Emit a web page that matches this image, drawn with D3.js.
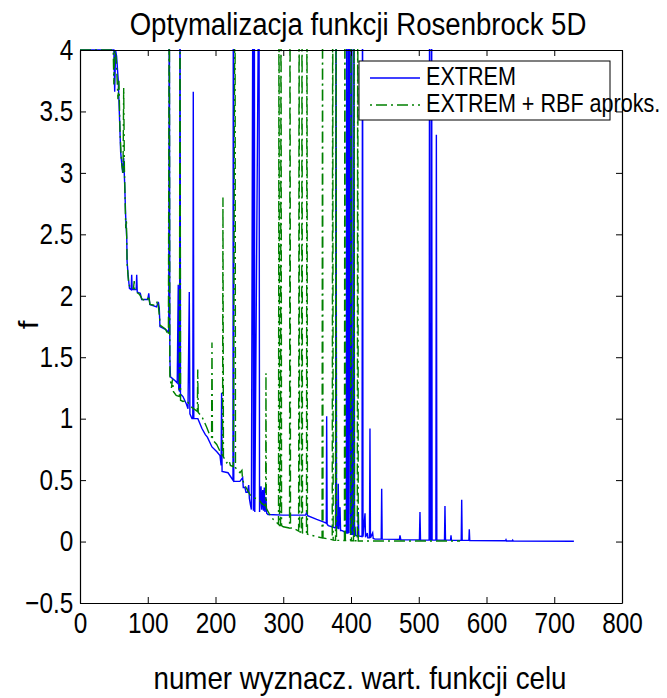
<!DOCTYPE html>
<html>
<head>
<meta charset="utf-8">
<script src="https://cdn.jsdelivr.net/npm/d3@7/dist/d3.min.js"></script>
<style>
body { margin: 0; background: #fff; }
text { font-family: "Liberation Sans", Arial, sans-serif; fill: #000; }
</style>
</head>
<body>
<div id="chart"></div>
<script>
var xTicks = [0, 100, 200, 300, 400, 500, 600, 700, 800];
var yTicks = [-0.5, 0, 0.5, 1, 1.5, 2, 2.5, 3, 3.5, 4];
var yTickLabels = ["\u22120.5", "0", "0.5", "1", "1.5", "2", "2.5", "3", "3.5", "4"];

// EXTREM  (index, f) - spikes above 4 are clipped by the axes
var extremPts = [
  [0,4],[50,4],[51.2,3.66],[52.5,4],[54,3.95],[56.5,3.75],[58,3.5],[60,3.17],[62,3.05],[63,3.0],
  [64.5,3.12],[66,2.9],[67.5,2.63],[69,2.47],[69.5,2.28],[71,2.17],[73,2.06],[75.5,2.05],[76.3,2.17],
  [77,2.05],[83,2.05],[83.7,2.17],[84.5,2.03],[89,2.02],[91,1.97],[100,1.97],[101.5,2.02],[103,1.93],
  [113,1.91],[115.6,1.95],[117,1.9],[118,1.75],[128,1.72],[131,1.70],[131.8,5],[132.6,1.5],[133.5,1.34],
  [140,1.31],[143.5,1.29],[145,2.09],[145.8,1.24],[147,1.22],[147.6,5],[148.3,1.2],[152,1.18],[157,1.12],
  [159.4,1.08],[161.3,2.03],[162.2,1.04],[165.3,1.0],[166.5,1.0],[167.2,3.66],[168,1.0],[174,1.0],
  [180,0.92],[185,0.87],[188,0.85],[194.8,0.77],[202,0.73],[206.6,0.70],[208.3,0.62],[209,1.21],
  [209.7,0.57],[218.5,0.56],[225.8,0.5],[226.3,5],[227,0.49],[236,0.49],[240.1,0.52],[241,0.44],
  [243.5,0.44],[245,0.40],[247,0.40],[249,0.46],[250,0.35],[251.5,0.30],[253,0.26],[255.3,5],[256,0.25],
  [257.3,5],[258,0.24],[264.2,5],[265,0.24],[267.2,0.45],[268.3,0.26],[269.7,0.42],[270.8,0.25],
  [272,0.44],[273,0.24],[274.5,0.36],[275.5,0.23],[277.5,0.22],[300,0.215],[333,0.215],[334.6,0.24],
  [336,0.21],[349.4,0.18],[359.1,0.16],[363.5,0.15],[364.1,1.02],[364.8,0.14],[366.5,0.13],[377.3,0.11],
  [377.9,5],[378.6,0.11],[380.5,0.11],[381.2,0.47],[382,0.10],[383.8,0.28],[384.6,0.09],[386.3,0.09],
  [393.1,0.07],[393.7,5],[394.5,0.07],[395.5,0.07],[396.2,5],[397,0.07],[398.5,5],[399.5,0.06],
  [400.5,0.06],[401.2,5],[402,0.06],[403.8,0.055],[404.4,5],[405.2,0.05],[406,0.12],[406.8,0.05],
  [410.2,0.045],[410.8,0.24],[411.5,0.045],[416.3,0.04],[417,5],[417.7,0.04],[420.7,0.23],[421.4,0.035],
  [424,0.07],[424.8,0.03],[427.3,0.03],[428,0.92],[428.7,0.03],[432,0.07],[432.8,0.025],[435.4,0.02],
  [444.6,0.02],[445.3,0.43],[446,0.02],[471.5,0.018],[472.3,0.05],[473.5,0.015],[501,0.014],[501.8,0.24],
  [502.6,0.013],[515.3,0.012],[516,5],[516.7,0.012],[518.3,0.012],[519,5],[519.7,0.012],[525.3,0.012],
  [526,3.31],[526.7,0.012],[538,0.012],[538.7,0.29],[539.5,0.012],[547,0.012],[547.6,0.05],[548.3,0.01],
  [562.7,0.01],[563.4,0.34],[564.1,0.01],[574,0.01],[574.6,0.10],[575.3,0.008],[628,0.006],[628.8,0.015],
  [629.6,0.005],[638,0.005],[638.7,0.012],[639.5,0.004],[729,0.003]
];

// EXTREM + RBF aproks.
var rbfPts = [
  [0,4],[49,4],[50,3.72],[51,4],[53.5,3.93],[56,3.6],[57.5,3.75],[59,3.35],[61,3.1],[63.5,3.0],
  [64.5,3.69],[65.5,3.05],[66.5,2.8],[67.5,2.55],[68.5,2.62],[69.5,2.27],[71.5,2.12],[74,2.06],[79,2.06],
  [80,2.12],[81,2.04],[88,2.01],[92,1.97],[99,1.96],[101,2.0],[103.5,1.93],[112,1.92],[114.5,1.96],
  [116,1.9],[118.5,1.76],[126,1.73],[130.5,1.68],[131.8,5],[132.6,1.35],[135,1.25],[136.5,1.32],
  [138,1.22],[142,1.19],[146.8,1.18],[147.6,5],[148.4,1.15],[152,1.14],[157.5,1.15],[163,1.1],[168,1.08],
  [173.2,1.06],[173.8,1.4],[174.5,1.05],[179.6,1.02],[183,0.98],[187,0.93],[192,0.86],[194.2,0.85],
  [194.8,1.62],[195.5,0.83],[201.8,0.79],[207,0.73],[210.4,0.70],[211,2.8],[211.7,0.69],[216.5,0.64],
  [220,0.66],[222,0.62],[226.3,0.61],[228.8,5],[229.5,0.6],[236.2,0.56],[239,0.58],[240,0.50],
  [244,0.45],[251,0.38],[255,0.36],[260,0.35],[265.7,0.33],[268,0.31],[274,0.29],[274.5,1.37],
  [275,0.27],[279,0.23],[285.3,0.18],[293,0.14],[293.7,5],[294.5,0.13],[296,0.13],[296.7,5],[297.5,0.13],
  [300,0.12],[309.3,0.11],[310,5],[310.7,0.11],[314.8,0.11],[322.7,0.085],[323.4,5],[324.1,0.08],
  [327,0.075],[327.7,5],[328.4,0.07],[334.3,0.065],[335,5],[335.7,0.06],[349.4,0.04],[357.3,0.03],
  [358,5],[358.7,0.03],[372.3,0.015],[373,5],[373.7,0.012],[377.2,0.01],[377.9,5],[378.6,0.01],
  [390.3,0.008],[391,5],[391.7,0.008],[399.3,0.007],[400,5],[400.7,0.007],[403.7,0.006],[404.4,5],
  [405.1,0.006],[409.3,0.006],[410,5],[410.7,0.005],[440,0.005],[500,0.004],[561,0.004]
];

var seriesNames = ["EXTREM", "EXTREM + RBF aproks."];
var seriesColors = ["#0000ff", "#008000"];

var margin = {top: 50, right: 45, bottom: 95, left: 80};
var width = 667 - margin.left - margin.right;
var height = 698 - margin.top - margin.bottom;

var svg = d3.select("#chart").append("svg")
    .attr("width", 667)
    .attr("height", 698);

// the original lettering is tall and condensed, so squeeze it horizontally
function narrowText(parent, px, py, size, sx, anchor, str) {
    return parent.append("text")
        .attr("transform", "translate(" + px + "," + py + ") scale(" + sx + ",1)")
        .attr("text-anchor", anchor)
        .style("font-size", size + "px")
        .text(str);
}

var g = svg.append("g")
    .attr("transform", "translate(" + margin.left + "," + margin.top + ")");

var x = d3.scaleLinear().domain([0, 800]).range([0, width]);
var y = d3.scaleLinear().domain([-0.5, 4]).range([height, 0]);

g.append("clipPath").attr("id", "clip")
    .append("rect")
    .attr("x", 0).attr("y", -1)
    .attr("width", width).attr("height", height + 1);

var line = d3.line()
    .x(function(d) { return x(d[0]); })
    .y(function(d) { return y(d[1]); });

var plot = g.append("g").attr("clip-path", "url(#clip)");

plot.append("path")
    .datum(extremPts)
    .attr("fill", "none")
    .attr("stroke", seriesColors[0])
    .attr("stroke-width", 1.4)
    .attr("d", line);

plot.append("path")
    .datum(rbfPts)
    .attr("fill", "none")
    .attr("stroke", seriesColors[1])
    .attr("stroke-width", 1.4)
    .attr("stroke-dasharray", "11,4,2,4")
    .attr("d", line);

// axes, ticks inside on all four sides
var xAxis = d3.axisBottom(x).tickValues(xTicks).tickSizeInner(-6).tickSizeOuter(0).tickPadding(9);
var yAxis = d3.axisLeft(y).tickValues(yTicks).tickSizeInner(-6).tickSizeOuter(0).tickPadding(8)
    .tickFormat(function(d, i) { return yTickLabels[i]; });

g.append("g").attr("transform", "translate(0," + height + ")").call(xAxis);
g.append("g").call(yAxis);
g.append("g").call(d3.axisTop(x).tickValues(xTicks).tickSizeInner(-6).tickSizeOuter(0).tickFormat(""));
g.append("g").attr("transform", "translate(" + width + ",0)")
    .call(d3.axisRight(y).tickValues(yTicks).tickSizeInner(-6).tickSizeOuter(0).tickFormat(""));

g.selectAll(".domain").attr("stroke", "#000").attr("stroke-width", 1.2);
g.selectAll(".tick line").attr("stroke", "#000");
g.selectAll(".tick text")
    .style("font-size", "29px")
    .style("font-family", "'Liberation Sans', Arial, sans-serif")
    .attr("fill", "#000")
    .attr("transform", "scale(0.84,1)");

// title and axis labels
narrowText(svg, 358, 35, 31, 0.89, "middle", "Optymalizacja funkcji Rosenbrock 5D");
narrowText(svg, 360, 689, 31, 0.895, "middle", "numer wyznacz. wart. funkcji celu");

svg.append("text")
    .attr("transform", "translate(38,325) rotate(-90) scale(1,0.89)")
    .attr("text-anchor", "middle")
    .style("font-size", "31px")
    .text("f");

// legend
var legend = g.append("g").attr("transform", "translate(" + (359 - margin.left) + "," + (61 - margin.top) + ")");
legend.append("rect")
    .attr("width", 251).attr("height", 59)
    .attr("fill", "#fff").attr("stroke", "#000").attr("stroke-width", 1);

seriesNames.forEach(function(name, i) {
    var ly = 17 + i * 27;
    legend.append("line")
        .attr("x1", 11).attr("x2", 61).attr("y1", ly).attr("y2", ly)
        .attr("stroke", seriesColors[i]).attr("stroke-width", 1.4)
        .attr("stroke-dasharray", i === 1 ? "2,4,11,4" : null);
    narrowText(legend, 67, ly + 7, 26, 0.83, "start", name);
});
</script>
</body>
</html>
